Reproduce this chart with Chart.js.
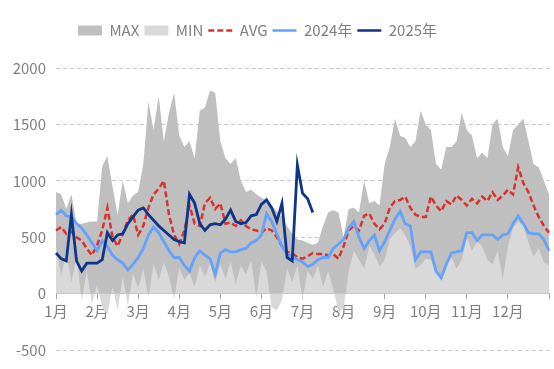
<!DOCTYPE html>
<html>
<head>
<meta charset="utf-8">
<script src="https://cdn.jsdelivr.net/npm/chart.js@4.4.1/dist/chart.umd.min.js"></script>
<style>
  html, body { margin: 0; padding: 0; background: #fff; }
</style>
</head>
<body>
<canvas id="chart" width="554" height="369"></canvas>
<script>
// month tick labels, one every 8 samples
const monthLabels = ['1月', '2月', '3月', '4月', '5月', '6月', '7月', '8月', '9月', '10月', '11月', '12月'];
const samplesPerMonth = 8;

// values, 8 samples per month (97 points)
const maxValues = [
  900, 880, 750, 880, 620, 620, 630, 640,
  640, 1130, 1220, 950, 700, 1000, 800, 870,
  900, 1150, 1700, 1450, 1750, 1350, 1600, 1780,
  1400, 1300, 1350, 1200, 1620, 1650, 1800, 1780,
  1350, 1200, 1150, 1200, 1000, 900, 920, 880,
  850, 830, 780, 730, 680, 600, 530, 480,
  470, 450, 430, 450, 600, 720, 740, 720,
  500, 750, 760, 720, 1000, 800, 820, 780,
  1150, 1300, 1550, 1400, 1380, 1300, 1350, 1620,
  1500, 1450, 1150, 1100, 1300, 1300, 1350, 1600,
  1450, 1400, 1200, 1250, 1200, 1500, 1550, 1300,
  1220, 1450, 1500, 1550, 1350, 1150, 1120, 1000,
  880
];
const minValues = [
  420, 150, 380, 100, 330, -60, 200, -90,
  80, -120, -190, 60, -150, 150, -110, 180,
  50, 220, -30, 260, 120, 280, 150, -50,
  230, 120, 180, 60, 250, 150, 270, 100,
  260, 130, 280, 90, 250, 170, 300, -40,
  280, 200, -120, -150, -60, 220, 100, 250,
  -50, 200, 130, 250, 60, 200, 40, -170,
  -130, 200, 380, 300, 220, 420, 350, 240,
  300, 480, 540, 580, 520, 420, 220, 250,
  310, 300, 190, 130, 250, 320, 220, 300,
  500, 380, 460, 420, 300, 260, 380, 130,
  420, 580, 640, 600, 450, 330, 400, 280,
  250
];
const avgValues = [
  560, 590, 530, 550, 500, 470, 400, 340,
  430, 560, 760, 500, 420, 530, 650, 700,
  520, 600, 760, 880, 930, 1000, 700, 520,
  440, 560, 780, 620, 600, 800, 850, 750,
  800, 620, 630, 600, 650, 600, 570, 560,
  540, 580, 560, 500, 420, 370, 360, 320,
  310, 330, 360, 350, 350, 340, 350, 310,
  420, 560, 600, 560, 690, 710, 620, 570,
  620, 760, 820, 830, 860, 760, 700, 680,
  680, 860, 780, 730, 820, 790, 870, 830,
  780, 840, 800, 860, 820, 900, 830, 870,
  920, 880, 1120, 980, 900, 780, 680, 600,
  540
];
const values2024 = [
  700, 740, 690, 680, 620, 580, 520, 450,
  380, 470, 420, 340, 300, 270, 210, 260,
  320, 400, 520, 590, 540, 460, 380, 320,
  320, 250, 200, 320, 380, 340, 310, 170,
  360, 390, 370, 370, 390, 400, 450, 470,
  520, 710, 640, 530, 420, 350, 330, 300,
  280, 240, 260, 300, 320, 320, 400, 440,
  480, 580, 640, 500, 400, 470, 520, 380,
  460, 560, 660, 730, 620, 600, 300, 370,
  370, 370, 200, 140, 260, 360, 370, 380,
  540, 540, 470, 520, 520, 520, 480, 520,
  530, 620, 690, 620, 540, 530, 530, 480,
  380
];
const values2025 = [
  360, 310, 290, 700, 290, 200, 270, 270,
  270, 300, 540, 470, 520, 530, 620, 680,
  740, 760, 700, 650, 600, 560, 520, 480,
  460, 450, 880, 800, 620, 560, 610, 620,
  610, 660, 740, 640, 620, 630, 690, 700,
  790, 830, 760, 640, 800, 320, 290, 1140,
  890, 840, 720
];

const dayLabels = maxValues.map((_, i) =>
  i % samplesPerMonth === 0 ? (monthLabels[i / samplesPerMonth] || '') : '');

const textColor = '#808080';
const fontFamily = "'Microsoft YaHei', 'Noto Sans CJK SC', sans-serif";

Chart.defaults.font.family = fontFamily;
Chart.defaults.font.size = 15;
Chart.defaults.color = textColor;

// push the plot down below the legend and nudge the legend left
const legendSpacing = {
  id: 'legendSpacing',
  beforeInit(chart) {
    const fit = chart.legend.fit;
    chart.legend.fit = function () {
      fit.call(this);
      this.height += 20;
    };
  },
  afterLayout(chart) {
    chart.legend.left -= 17;
    chart.legend.right -= 17;
  }
};

const ctx = document.getElementById('chart').getContext('2d');
new Chart(ctx, {
  type: 'line',
  data: {
    labels: dayLabels,
    datasets: [
      {
        label: 'MAX', data: maxValues, fill: 'origin',
        backgroundColor: '#bfbfbf', borderColor: 'rgba(0,0,0,0)', borderWidth: 1, order: 5
      },
      {
        label: 'MIN', data: minValues, fill: 'origin',
        backgroundColor: '#d9d9d9', borderColor: 'rgba(0,0,0,0)', borderWidth: 1, order: 4
      },
      {
        label: 'AVG', data: avgValues, fill: false,
        borderColor: '#d9322b', backgroundColor: '#d9322b', borderWidth: 2.5, borderDash: [6, 3], order: 3
      },
      {
        label: '2024年', data: values2024, fill: false,
        borderColor: '#63a1fb', backgroundColor: '#63a1fb', borderWidth: 2.8, order: 2
      },
      {
        label: '2025年', data: values2025, fill: false,
        borderColor: '#0d358a', backgroundColor: '#0d358a', borderWidth: 2.8, order: 1
      }
    ]
  },
  options: {
    responsive: false,
    animation: false,
    devicePixelRatio: 1,
    elements: {
      point: { radius: 0, hoverRadius: 0 },
      line: { tension: 0 }
    },
    layout: { padding: { top: 18, right: 5, bottom: 17, left: 0 } },
    plugins: {
      tooltip: { enabled: false },
      legend: {
        position: 'top',
        labels: {
          usePointStyle: true,
          pointStyleWidth: 24,
          boxHeight: 10,
          padding: 5,
          color: textColor,
          font: { size: 15 },
          generateLabels: chart => chart.data.datasets.map((ds, i) => ({
            text: ds.label,
            fillStyle: ds.backgroundColor,
            strokeStyle: ds.fill ? ds.backgroundColor : ds.borderColor,
            lineWidth: ds.fill ? 0 : 2.5,
            lineDash: ds.borderDash || [],
            pointStyle: ds.fill ? 'rect' : 'line',
            fontColor: textColor,
            hidden: false,
            datasetIndex: i
          }))
        }
      }
    },
    scales: {
      x: {
        type: 'category',
        position: { y: 0 },
        z: 1,
        grid: {
          drawOnChartArea: false,
          tickLength: 5,
          tickColor: c => c.index % samplesPerMonth === 0 ? '#a6a6a6' : 'rgba(0,0,0,0)'
        },
        border: { display: true, color: '#a6a6a6', width: 1 },
        ticks: { autoSkip: false, maxRotation: 0, minRotation: 0, padding: 4, color: textColor }
      },
      y: {
        min: -500,
        max: 2000,
        ticks: { stepSize: 500, padding: 10, color: textColor, callback: v => String(v) },
        grid: { color: '#c8c8c8', drawTicks: false },
        border: { display: false, dash: [4, 3] },
        afterFit: scale => { scale.width = 56; }
      }
    }
  },
  plugins: [legendSpacing]
});
</script>
</body>
</html>
